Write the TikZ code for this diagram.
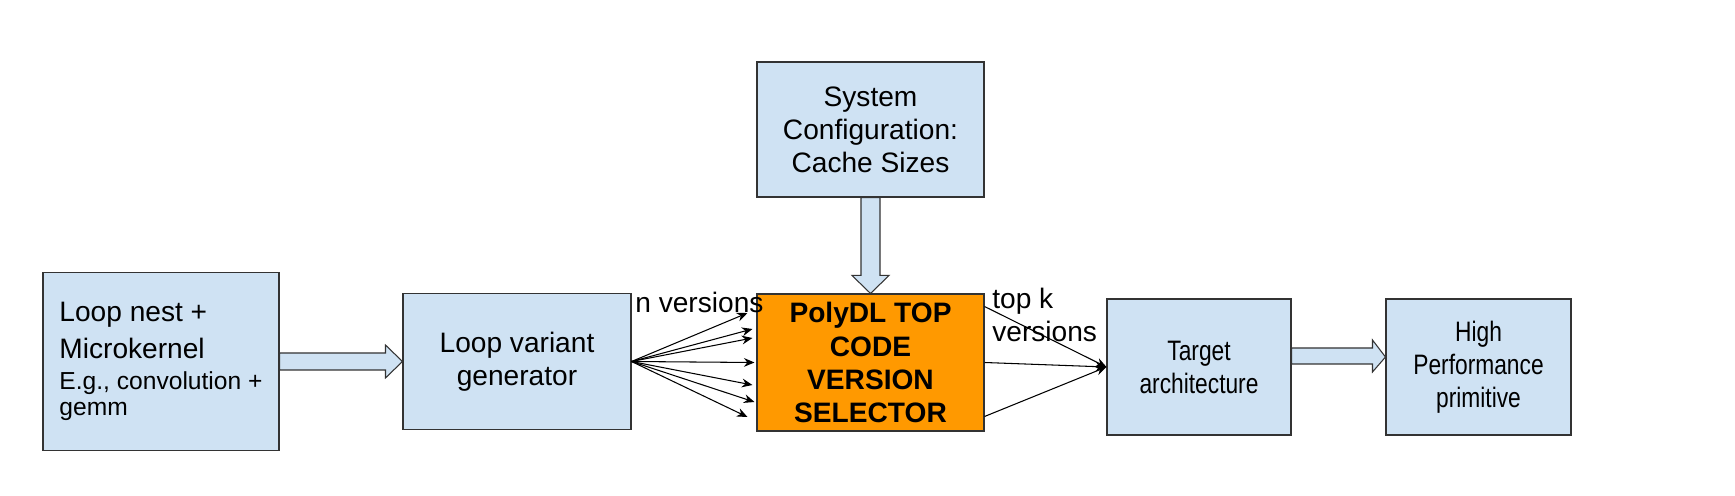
\documentclass[tikz,border=0pt]{standalone}
\usepackage{fontspec}
\setmainfont{Liberation Sans}
\newfontfamily\condensedfont[FakeStretch=0.81]{Liberation Sans}
\usetikzlibrary{arrows.meta,calc}
\definecolor{boxblue}{HTML}{CFE2F3}
\definecolor{selorange}{HTML}{FF9900}
\begin{document}
\begin{tikzpicture}

    \tikzset{
      stage/.style={
        draw=black!80,
        line width=0.6pt,
        fill=boxblue,
        align=center,
        inner sep=0pt,
        font=\fontsize{16}{18.8}\selectfont,
      },
      fatarrow/.style={draw=black!80, line width=0.6pt, fill=boxblue, line join=miter},
      fanarrow/.style={line width=0.6pt, -{Stealth[length=6pt,width=5pt]}},
      countlabel/.style={inner sep=0pt, align=left, font=\fontsize{16}{18.8}\selectfont},
    }
    \useasboundingbox (0,0) rectangle (34.7,9.9);

	\node[stage, align=left, font=\fontsize{16}{21}\selectfont, minimum width=4.72cm, minimum height=3.56cm] (loop) at (3.22,2.67) {Loop nest +\\Microkernel\\[-3.5pt]{\fontsize{14}{15.2}\selectfont E.g., convolution +}\\[-5.8pt]{\fontsize{14}{15.2}\selectfont gemm}};
	\node[stage, minimum width=4.56cm, minimum height=2.72cm] (variant) at (10.34,2.67) {Loop variant\\generator};
	\node[stage, fill=selorange, font=\bfseries\fontsize{16}{18.8}\selectfont, minimum width=4.54cm, minimum height=2.74cm] (selector) at (17.41,2.65) {PolyDL TOP\\CODE\\VERSION\\SELECTOR};
	\node[stage, minimum width=4.54cm, minimum height=2.7cm] (sysconf) at (17.41,7.31) {System\\Configuration:\\Cache Sizes};
	\node[stage, font=\condensedfont\fontsize{16}{18.8}\selectfont, minimum width=3.68cm, minimum height=2.72cm] (target) at (23.98,2.56) {Target\\architecture};
	\node[stage, font=\condensedfont\fontsize{16}{18.8}\selectfont, minimum width=3.7cm, minimum height=2.72cm] (hpprim) at (29.57,2.56) {High\\Performance\\primitive};

	\draw[fatarrow] ($(loop.east)+(0,0.17)$) -- ($(variant.west)+(-0.34,0.17)$) -- ($(variant.west)+(-0.34,0.33)$) -- (variant.west) -- ($(variant.west)+(-0.34,-0.33)$) -- ($(variant.west)+(-0.34,-0.17)$) -- ($(loop.east)+(0,-0.17)$) -- cycle;
	\draw[fatarrow] ($(sysconf.south)+(-0.19,0)$) -- ($(selector.north)+(-0.19,0.36)$) -- ($(selector.north)+(-0.37,0.36)$) -- (selector.north) -- ($(selector.north)+(0.37,0.36)$) -- ($(selector.north)+(0.19,0.36)$) -- ($(sysconf.south)+(0.19,0)$) -- cycle;
	\draw[fatarrow] ($(target.east)+(0,0.38)$) -- ($(hpprim.west)+(-0.26,0.38)$) -- ($(hpprim.west)+(-0.26,0.54)$) -- ($(hpprim.west)+(0,0.2)$) -- ($(hpprim.west)+(-0.26,-0.1)$) -- ($(hpprim.west)+(-0.26,0.06)$) -- ($(target.east)+(0,0.06)$) -- cycle;

	\foreach \dy/\dx in {0.99/-0.18, 0.67/-0.08, 0.49/-0.08, 0/-0.04, -0.45/-0.08, -0.79/-0.04, -1.09/-0.18}
		\draw[fanarrow] (variant.east) -- ([xshift=\dx cm, yshift=\dy cm]selector.west);
	\foreach \dy in {1.12, 0, -1.08}
		\draw[fanarrow] ([yshift=\dy cm]selector.east) -- (target.west);

	\node[countlabel, anchor=base west] (nlabel) at (12.7,3.64) {n versions};
	\node[countlabel, anchor=north west] (klabel) at (19.84,4.14) {top k\\versions};

\end{tikzpicture}
\end{document}
